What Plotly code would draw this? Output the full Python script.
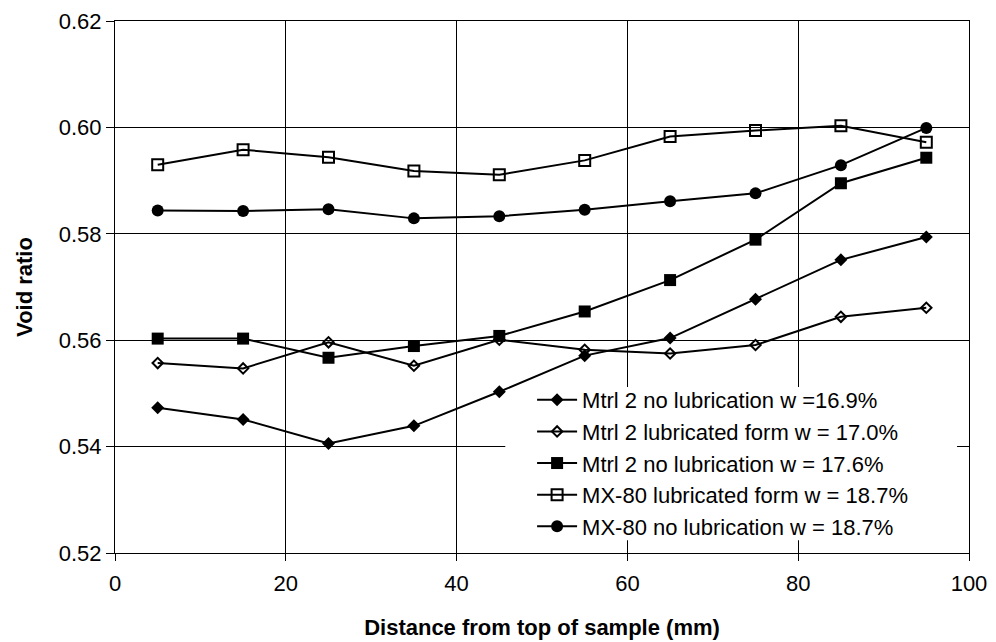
import plotly.graph_objects as go

distance = [5, 15, 25, 35, 45, 55, 65, 75, 85, 95]

mtrl2_nolub_169 = [0.5473, 0.5451, 0.5406, 0.5439, 0.5503, 0.5571, 0.5604, 0.5677, 0.5751, 0.5794]
mtrl2_lub_170 = [0.5557, 0.5547, 0.5596, 0.5552, 0.5601, 0.5582, 0.5575, 0.5591, 0.5644, 0.5661]
mtrl2_nolub_176 = [0.5603, 0.5603, 0.5567, 0.5589, 0.5608, 0.5654, 0.5713, 0.5789, 0.5895, 0.5943]
mx80_lub_187 = [0.5930, 0.5958, 0.5944, 0.5918, 0.5911, 0.5938, 0.5983, 0.5994, 0.6003, 0.5972]
mx80_nolub_187 = [0.5844, 0.5843, 0.5846, 0.5829, 0.5833, 0.5845, 0.5861, 0.5876, 0.5929, 0.5999]

names = [
    "Mtrl 2 no lubrication w =16.9%",
    "Mtrl 2 lubricated form w = 17.0%",
    "Mtrl 2 no lubrication w = 17.6%",
    "MX-80 lubricated form w = 18.7%",
    "MX-80 no lubrication w = 18.7%",
]
series = [mtrl2_nolub_169, mtrl2_lub_170, mtrl2_nolub_176, mx80_lub_187, mx80_nolub_187]
markers = [
    dict(symbol="diamond", size=10, color="black"),
    dict(symbol="diamond-open", size=8, color="black", line=dict(width=2, color="black")),
    dict(symbol="square", size=12, color="black"),
    dict(symbol="square-open", size=11, color="black", line=dict(width=2, color="black")),
    dict(symbol="circle", size=12, color="black"),
]

fig = go.Figure()
for n, s, m in zip(names, series, markers):
    fig.add_trace(go.Scatter(x=distance, y=s, name=n, mode="lines+markers",
                             line=dict(color="black", width=2), marker=m))

# white legend panel covering the grid (above grid, below traces)
fig.add_shape(type="rect", xref="x", yref="y", x0=45.7, x1=98.6, y0=0.5224, y1=0.5512,
              fillcolor="white", line=dict(width=0), layer="between")

fig.update_layout(
    width=988, height=634,
    margin=dict(l=107, r=27, t=13, b=89),
    paper_bgcolor="white", plot_bgcolor="white",
    font=dict(family="Liberation Sans, Arial, sans-serif", size=22, color="black"),
    xaxis=dict(range=[0, 100], dtick=20, showgrid=True, gridcolor="black", gridwidth=1,
               showline=True, linecolor="black", linewidth=1, mirror=True, ticks="outside", ticklen=7,
               tickcolor="black", zeroline=False, automargin=False, ticklabelstandoff=4,
               tickfont=dict(size=22),
               title=dict(text="<b>Distance from top of sample (mm)</b>", font=dict(size=22), standoff=24)),
    yaxis=dict(range=[0.52, 0.62], dtick=0.02, tickformat=".2f", showgrid=True, gridcolor="black",
               gridwidth=1, showline=True, linecolor="black", linewidth=1, mirror=True, ticks="outside",
               ticklen=8, tickcolor="black", zeroline=False, automargin=False,
               tickfont=dict(size=22),
               title=dict(text="<b>Void ratio</b>", font=dict(size=22), standoff=20)),
    legend=dict(x=0.4884, y=0.327, xanchor="left", yanchor="top", bgcolor="rgba(0,0,0,0)",
                borderwidth=0, font=dict(size=22), tracegroupgap=0, itemwidth=40),
    showlegend=True,
)

fig.write_html("out.html")
